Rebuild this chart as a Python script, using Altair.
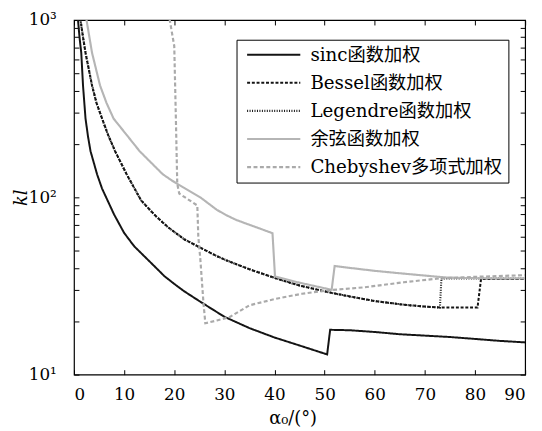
import altair as alt
import pandas as pd

names = ["sinc函数加权", "Bessel函数加权", "Legendre函数加权", "余弦函数加权", "Chebyshev多项式加权"]

sinc_a = [0.7, 0.8, 1.1, 1.45, 1.8, 2.3, 2.8, 3.3, 4.0, 4.6, 5.6, 6.7, 8, 10, 12, 14, 16, 18, 20, 22, 25, 28, 30, 35, 40, 45, 50.5, 51.1, 55, 60, 65, 70, 75, 80, 85, 90]
sinc_v = [1300, 1000, 800, 653, 427, 278, 220, 182, 155, 135, 112, 96, 80, 63, 53, 46.6, 41, 36, 32.5, 29.5, 26, 23, 21.2, 18.3, 16.2, 14.6, 13.0, 17.9, 17.8, 17.4, 16.9, 16.6, 16.3, 15.9, 15.5, 15.2]

bes_a = [1.1, 1.3, 1.8, 2.3, 3.6, 4.5, 5.6, 6.8, 8.2, 10.5, 13.4, 16, 18.7, 22, 25.2, 28.5, 30.5, 35, 40.3, 45, 50.7, 55, 60, 65.8, 70, 73, 80.5, 81.2, 85, 90]
bes_v = [1300, 1000, 800, 653, 427, 340, 278, 225, 182, 135, 96, 80, 68, 58, 52, 46.6, 44, 39.3, 34.9, 31.8, 29.2, 27.6, 26, 24.8, 24.2, 23.9, 23.9, 34.6, 34.6, 34.6]

leg_a = [1.1, 1.3, 1.8, 2.3, 3.6, 4.5, 5.6, 6.8, 8.2, 10.5, 13.4, 16, 18.7, 22, 25.2, 28.5, 30.5, 35, 40.3, 45, 50.7, 55, 60, 65.8, 70, 73, 73.3, 80, 85, 90]
leg_v = [1300, 1000, 800, 653, 427, 340, 278, 225, 182, 135, 96, 80, 68, 58, 52, 46.6, 44, 39.3, 34.9, 31.8, 29.2, 27.6, 26, 24.8, 24.2, 23.9, 34.9, 34.9, 34.8, 34.8]

cos_a = [2.2, 2.5, 3.6, 5.2, 6.5, 7.9, 10.5, 13.1, 17.7, 19.6, 22, 25.2, 28.5, 30.5, 32.4, 35, 39.6, 40.1, 45, 51.4, 52.0, 55, 60, 65, 70, 74.3, 80, 85, 90]
cos_v = [1300, 1000, 653, 427, 340, 278, 225, 182, 135, 124, 113, 100, 85, 79, 74.5, 70, 62.8, 35.8, 33, 30.1, 41, 40, 38.5, 37.3, 36.2, 35.3, 35.0, 34.9, 34.9]

che_a = [18.8, 19.1, 20.0, 20.3, 20.6, 21.0, 24.6, 24.8, 25.2, 25.8, 26.2, 28.5, 31, 35, 40.3, 45.5, 50.7, 58, 65.8, 73, 80, 90]
che_v = [1100, 1000, 714, 300, 119, 105, 90, 60, 45, 26, 19.5, 20.2, 21.1, 24.6, 26.8, 28.6, 29.9, 31.1, 33.2, 34.9, 35.6, 36.4]

x_ticks = list(range(0, 91, 10))
y_ticks = [k * 10 ** e for e in (1, 2) for k in range(1, 10)] + [1000]

rows = []
for name, aa, vv in zip(names, [sinc_a, bes_a, leg_a, cos_a, che_a],
                        [sinc_v, bes_v, leg_v, cos_v, che_v]):
    for i, (a, v) in enumerate(zip(aa, vv)):
        rows.append({"s": name, "a": a, "v": v, "o": i})
df = pd.DataFrame(rows)

W, H = 458, 360
FONT = "DejaVu Serif, Noto Sans CJK SC"
colors = ["#141414", "#141414", "#141414", "#b5b5b5", "#aaaaaa"]
dashes = [[1, 0], [3, 1.8], [1, 1.5], [1, 0], [4, 2.5]]
widths = [2.0, 2.2, 1.2, 2.0, 1.6]

ylab = "datum.value == 10 ? '10¹' : datum.value == 100 ? '10²' : datum.value == 1000 ? '10³' : ''"

xs = alt.Scale(domain=[0, 90], nice=False, zero=False)
ys = alt.Scale(type="log", domain=[10, 1000], nice=False)

leg = alt.Legend(
    orient="none", legendX=165, legendY=20, title=None,
    symbolType="M-5,0H5", symbolSize=116.6, symbolOffset=22.5,
    labelOffset=28, labelFont=FONT, labelFontSize=18.5, labelColor="black",
    rowPadding=9.5, padding=6, strokeColor="black", fillColor="white",
    labelLimit=400,
)

lines = alt.Chart(df).mark_line(clip=True).encode(
    x=alt.X("a:Q", scale=xs, axis=alt.Axis(
        values=x_ticks, title="α₀/(°)", ticks=False, labelPadding=12,
        titleX=222, titleY=45, titleBaseline="middle", titleAlign="center")),
    y=alt.Y("v:Q", scale=ys, axis=alt.Axis(
        values=y_ticks, labelExpr=ylab, title="kl", ticks=False, labelPadding=18,
        titleFontStyle="italic", titleX=-53, titleY=180, titleAngle=270,
        titleBaseline="middle", titleAlign="center")),
    color=alt.Color("s:N", scale=alt.Scale(domain=names, range=colors), legend=leg),
    strokeDash=alt.StrokeDash("s:N", scale=alt.Scale(domain=names, range=dashes), legend=leg),
    strokeWidth=alt.StrokeWidth("s:N", scale=alt.Scale(domain=names, range=widths), legend=leg),
    order="o:Q",
)

# inward ticks on the bottom and left edges
ticks_a = alt.Chart(df).mark_point(opacity=0, clip=True).encode(
    x=alt.X("a:Q", scale=xs, axis=alt.Axis(orient="top", offset=-H, values=x_ticks, labels=False,
                                            title=None, tickSize=5)),
    y=alt.Y("v:Q", scale=ys, axis=alt.Axis(orient="right", offset=-W, values=y_ticks, labels=False,
                                            title=None, tickSize=5)),
)
# inward ticks on the top and right edges
ticks_b = alt.Chart(df).mark_point(opacity=0, clip=True).encode(
    x=alt.X("a:Q", scale=xs, axis=alt.Axis(orient="bottom", offset=-H, values=x_ticks, labels=False,
                                            title=None, tickSize=5)),
    y=alt.Y("v:Q", scale=ys, axis=alt.Axis(orient="left", offset=-W, values=y_ticks, labels=False,
                                            title=None, tickSize=5)),
)

chart = alt.layer(lines, ticks_a, ticks_b).resolve_axis(x="independent", y="independent").properties(
    width=W, height=H,
    autosize=alt.AutoSizeParams(type="none"),
    padding={"left": 67, "top": 9, "right": 9, "bottom": 54},
).configure_view(stroke="black", strokeWidth=1.2).configure_axis(
    domain=False, grid=False, tickColor="black", tickWidth=1,
    labelFont=FONT, labelFontSize=17, labelColor="black",
    titleFont=FONT, titleFontSize=18, titleColor="black", titleFontWeight="normal",
)

chart.save("out.html", embed_options={"renderer": "svg", "actions": False})
